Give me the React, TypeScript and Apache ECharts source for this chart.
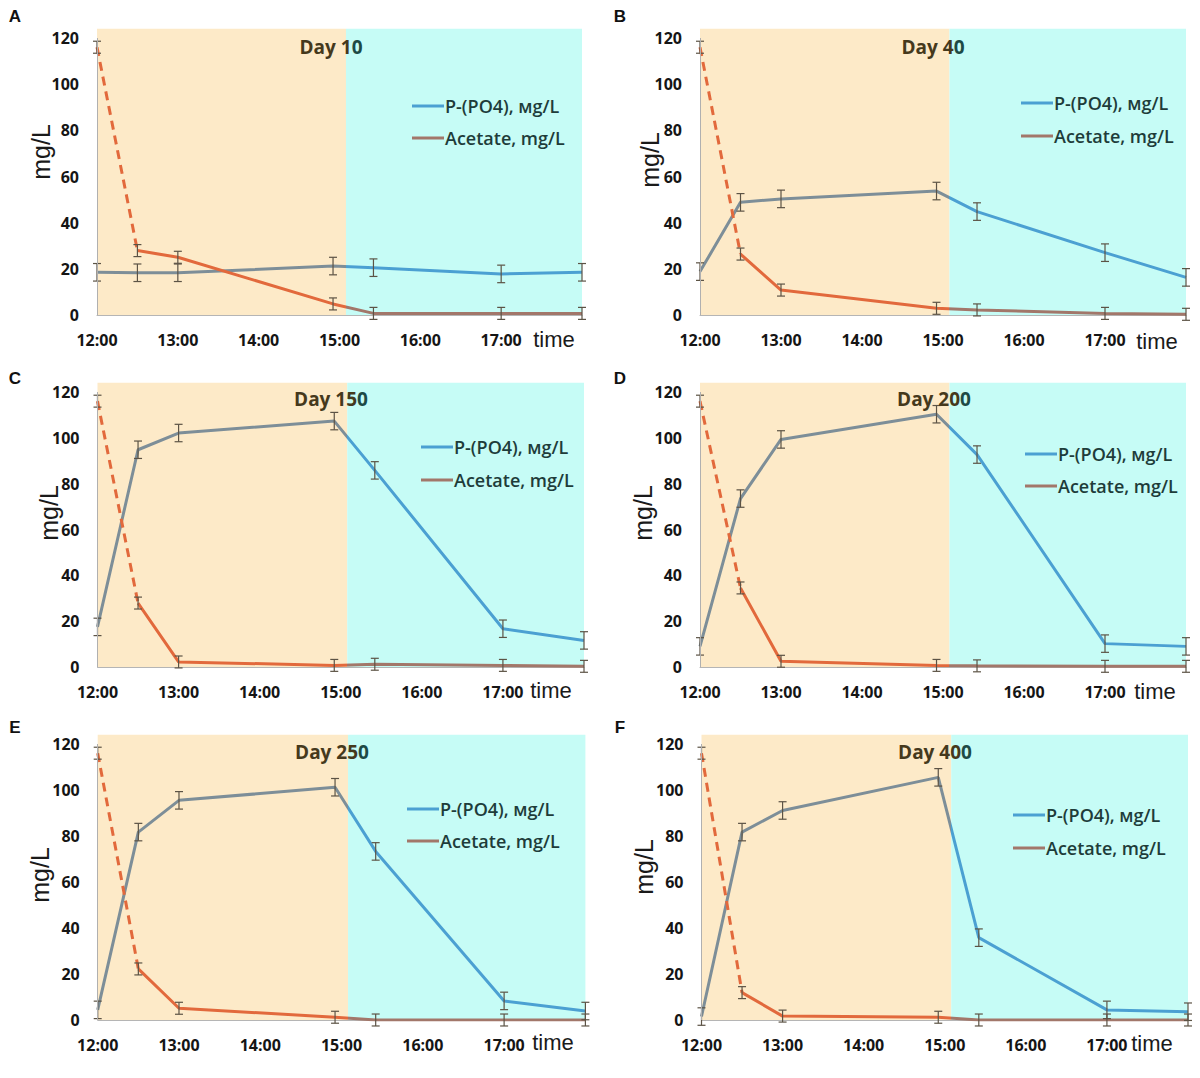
import React, { useEffect, useRef } from "react";
import * as echarts from "echarts";

// ---- data ----
const times = [12, 12.5, 13, 14.92, 15.42, 17, 18];
const tickHours = [12, 13, 14, 15, 16, 17];
const yTicks = [0, 20, 40, 60, 80, 100, 120];
const phaseBoundary = 15.08;

const pA = [18.5, 18.3, 18.3, 21.2, 20.5, 17.8, 18.5];
const acA = [116, 27.9, 25, 4.8, 0.7, 0.7, 0.7];
const pB = [18.8, 48.8, 50.3, 53.7, 44.8, 27.0, 16.3];
const acB = [116, 26.4, 10.8, 2.9, 2.2, 0.7, 0.3];
const pC = [17.5, 94.8, 102.1, 107.3, 85.8, 16.7, 11.6];
const acC = [116, 27.9, 2.2, 0.7, 1.2, 0.7, 0.3];
const pD = [9.0, 73.5, 99.3, 110.3, 92.7, 10.2, 9.0];
const acD = [116, 34.5, 2.5, 0.7, 0.5, 0.3, 0.3];
const pE = [4.4, 81.7, 95.5, 101.2, 73.3, 8.3, 3.9];
const acE = [116, 22.2, 5.1, 1.2, 0, 0, 0];
const pF = [1.5, 81.7, 91.1, 105.5, 35.8, 4.4, 3.6];
const acF = [116, 11.9, 1.7, 1.2, 0, 0, 0];

const pErr = [3.8, 3.8, 3.8, 3.8, 3.8, 3.8, 3.8];
const acErr = [2.6, 2.6, 2.6, 2.6, 2.6, 2.6, 2.6];

const panelLetters = ["A", "B", "C", "D", "E", "F"];
const dayTitles = [
  ["Day 1", "0"],
  ["Day 4", "0"],
  ["Day 15", "0"],
  ["Day 20", "0"],
  ["Day 25", "0"],
  ["Day 40", "0"],
];
const pSeries = [pA, pB, pC, pD, pE, pF];
const acSeries = [acA, acB, acC, acD, acE, acF];
const legendP = "P-(PO4), мg/L";
const legendAc = "Acetate, mg/L";
const yName = "mg/L";
const xName = "time";

// ---- layout (pixels) ----
const layout = [
  { left: 97, right: 582, y0: 315, y120: 38, letter: [15, 16], day: [331, 47], mg: [41, 152], leg: [412, 106, 138], time: [554, 339] },
  { left: 700, right: 1186, y0: 315, y120: 38, letter: [620, 16], day: [933, 47], mg: [650, 160], leg: [1021, 103, 136], time: [1157, 341] },
  { left: 97.5, right: 584, y0: 667, y120: 392, letter: [15, 378], day: [331, 399], mg: [49, 513], leg: [421, 447, 480], time: [551, 690] },
  { left: 700, right: 1186, y0: 667, y120: 392, letter: [620, 378], day: [934, 399], mg: [643, 513], leg: [1025, 454, 486], time: [1155, 691] },
  { left: 97.7, right: 585.4, y0: 1020, y120: 744, letter: [15, 727], day: [332, 752], mg: [40, 875], leg: [407, 809, 841], time: [553, 1042] },
  { left: 701.5, right: 1188, y0: 1020, y120: 744, letter: [620, 727], day: [935, 752], mg: [644, 867], leg: [1013, 815, 848], time: [1152, 1043] },
];
const YMAX = 124;

const ORANGE_BG = "#fdeac8";
const CYAN_BG = "#c6fcf6";
const P_GREY = "#7d8e98";
const P_BLUE = "#4ba0d2";
const AC_ORANGE = "#e2693c";
const AC_BROWN = "#a2776a";
const ERR_COLOR = "#5c5345";

export default function App() {
  const ref = useRef<HTMLDivElement>(null);

  useEffect(() => {
    document.body.style.margin = "0";
    const chart = echarts.init(ref.current!, null, { renderer: "svg" });

    const grids: any[] = [];
    const xAxes: any[] = [];
    const yAxes: any[] = [];
    const series: any[] = [];
    const graphics: any[] = [];
    const pIdx: number[] = [];
    const acIdx: number[] = [];

    const tickFont = { fontFamily: "Open Sans", fontWeight: "bold", fontSize: 16, color: "#151515" };

    layout.forEach((l, i) => {
      const pxPerUnit = (l.y0 - l.y120) / 120;
      const top = l.y0 - YMAX * pxPerUnit;
      grids.push({ left: l.left, top, width: l.right - l.left, height: l.y0 - top });
      xAxes.push({
        type: "value",
        gridIndex: i,
        min: 12,
        max: 18,
        interval: 1,
        axisLine: { show: true, lineStyle: { color: "#b5b5b5", width: 1 } },
        axisTick: { show: false },
        splitLine: { show: false },
        axisLabel: {
          ...tickFont,
          margin: 17,
          showMaxLabel: false,
          formatter: (v: number) => (tickHours.includes(v) ? `${v}:00` : ""),
        },
      });
      yAxes.push({
        type: "value",
        gridIndex: i,
        min: 0,
        max: YMAX,
        interval: 20,
        axisLine: { show: false },
        axisTick: { show: false },
        splitLine: { show: false },
        axisLabel: {
          ...tickFont,
          margin: 18,
          formatter: (v: number) => (yTicks.includes(v) ? String(v) : ""),
        },
      });

      // background phases
      series.push({
        type: "line",
        xAxisIndex: i,
        yAxisIndex: i,
        data: [[12, 0]],
        showSymbol: false,
        lineStyle: { opacity: 0 },
        z: 1,
        silent: true,
        markArea: {
          silent: true,
          data: [
            [{ coord: [12, 0], itemStyle: { color: ORANGE_BG } }, { coord: [phaseBoundary, YMAX] }],
            [{ coord: [phaseBoundary, 0], itemStyle: { color: CYAN_BG } }, { coord: [18, YMAX] }],
          ],
        },
        markLine: {
          silent: true,
          symbol: "none",
          label: { show: false },
          lineStyle: { color: "#b0b0b0", width: 1, type: "solid" },
          data: [[{ coord: [12, 0] }, { coord: [12, 120] }]],
        },
      });

      const p = pSeries[i];
      const ac = acSeries[i];

      pIdx.push(series.length);
      series.push({
        type: "line",
        xAxisIndex: i,
        yAxisIndex: i,
        data: times.map((t, k) => [t, p[k]]),
        showSymbol: false,
        lineStyle: { width: 3 },
        z: 3,
      });

      series.push({
        type: "line",
        xAxisIndex: i,
        yAxisIndex: i,
        data: [
          [times[0], ac[0]],
          [times[1], ac[1]],
        ],
        showSymbol: false,
        lineStyle: { width: 3, color: AC_ORANGE, type: [9, 6] },
        z: 3,
      });

      acIdx.push(series.length);
      series.push({
        type: "line",
        xAxisIndex: i,
        yAxisIndex: i,
        data: times.slice(1).map((t, k) => [t, ac[k + 1]]),
        showSymbol: false,
        lineStyle: { width: 3 },
        z: 3,
      });

      const errData: number[][] = [];
      times.forEach((t, k) => {
        errData.push([t, p[k], pErr[k]]);
        errData.push([t, ac[k], acErr[k]]);
      });
      series.push({
        type: "custom",
        xAxisIndex: i,
        yAxisIndex: i,
        data: errData,
        clip: false,
        z: 4,
        silent: true,
        encode: { x: 0, y: 1 },
        renderItem: (params: any, api: any) => {
          const x = api.value(0);
          const y = api.value(1);
          const e = api.value(2);
          const a = api.coord([x, y + e]);
          const b = api.coord([x, y - e]);
          const hw = 4;
          const st = { stroke: ERR_COLOR, lineWidth: 1.2 };
          return {
            type: "group",
            children: [
              { type: "line", shape: { x1: a[0], y1: a[1], x2: b[0], y2: b[1] }, style: st },
              { type: "line", shape: { x1: a[0] - hw, y1: a[1], x2: a[0] + hw, y2: a[1] }, style: st },
              { type: "line", shape: { x1: b[0] - hw, y1: b[1], x2: b[0] + hw, y2: b[1] }, style: st },
            ],
          };
        },
      });

      // texts
      graphics.push({
        type: "text",
        x: l.letter[0],
        y: l.letter[1],
        style: {
          text: panelLetters[i],
          font: 'bold 17px "Liberation Sans"',
          fill: "#111",
          align: "center",
          verticalAlign: "middle",
          textAlign: "center",
          textVerticalAlign: "middle",
        },
      });
      graphics.push({
        type: "text",
        x: l.day[0],
        y: l.day[1],
        z: 10,
        style: {
          text: `{a|${dayTitles[i][0]}}{b|${dayTitles[i][1]}}`,
          rich: {
            a: { fill: "#45391c", fontFamily: "Open Sans", fontWeight: "bold", fontSize: 19 },
            b: { fill: "#1d4a45", fontFamily: "Open Sans", fontWeight: "bold", fontSize: 19 },
          },
          font: 'bold 19px "Open Sans"',
          align: "center",
          verticalAlign: "middle",
          textAlign: "center",
          textVerticalAlign: "middle",
        },
      });
      graphics.push({
        type: "text",
        x: l.mg[0],
        y: l.mg[1],
        rotation: Math.PI / 2,
        style: {
          text: yName,
          font: '25px "Liberation Sans"',
          fill: "#1a1a1a",
          align: "center",
          verticalAlign: "middle",
          textAlign: "center",
          textVerticalAlign: "middle",
        },
      });
      graphics.push({
        type: "text",
        x: l.time[0],
        y: l.time[1],
        style: {
          text: xName,
          font: '22px "Liberation Sans"',
          fill: "#1a1a1a",
          align: "center",
          verticalAlign: "middle",
          textAlign: "center",
          textVerticalAlign: "middle",
        },
      });
      const lx = l.leg[0];
      [
        { y: l.leg[1], color: P_BLUE, text: legendP },
        { y: l.leg[2], color: AC_BROWN, text: legendAc },
      ].forEach((it) => {
        graphics.push({
          type: "line",
          z: 10,
          shape: { x1: lx, y1: it.y, x2: lx + 32, y2: it.y },
          style: { stroke: it.color, lineWidth: 3 },
        });
        graphics.push({
          type: "text",
          z: 10,
          x: lx + 33,
          y: it.y,
          style: {
            text: it.text,
            font: '600 18px "Open Sans"',
            fill: "#1e3c3a",
            align: "left",
            verticalAlign: "middle",
            textAlign: "left",
            textVerticalAlign: "middle",
          },
        });
      });
    });

    chart.setOption({
      animation: false,
      backgroundColor: "#ffffff",
      grid: grids,
      xAxis: xAxes,
      yAxis: yAxes,
      visualMap: [
        {
          type: "piecewise",
          show: false,
          dimension: 0,
          seriesIndex: pIdx,
          pieces: [
            { gte: 11, lt: phaseBoundary, color: P_GREY },
            { gte: phaseBoundary, lte: 19, color: P_BLUE },
          ],
        },
        {
          type: "piecewise",
          show: false,
          dimension: 0,
          seriesIndex: acIdx,
          pieces: [
            { gte: 11, lt: phaseBoundary, color: AC_ORANGE },
            { gte: phaseBoundary, lte: 19, color: AC_BROWN },
          ],
        },
      ],
      series,
      graphic: graphics,
    });

    return () => {
      chart.dispose();
    };
  }, []);

  return <div ref={ref} style={{ width: 1200, height: 1078 }} />;
}
